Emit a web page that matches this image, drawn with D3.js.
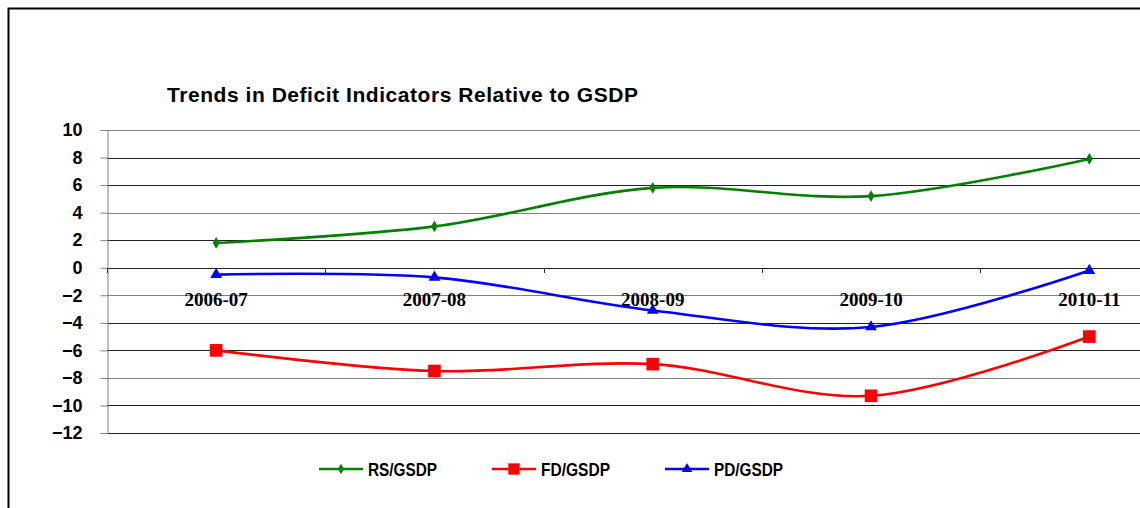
<!DOCTYPE html>
<html>
<head>
<meta charset="utf-8">
<script src="https://cdn.jsdelivr.net/npm/d3@7"></script>
<style>
  body { margin: 0; background: #fff; }
  svg { display: block; }
</style>
</head>
<body>
<div id="chart"></div>
<script>
// data
var years = ["2006-07", "2007-08", "2008-09", "2009-10", "2010-11"];
var rsGsdp = [1.8, 3.0, 5.8, 5.2, 7.9];
var fdGsdp = [-6.0, -7.5, -7.0, -9.3, -5.0];
var pdGsdp = [-0.5, -0.7, -3.1, -4.3, -0.2];
var yTicks = [10, 8, 6, 4, 2, 0, -2, -4, -6, -8, -10, -12];

var series = [
    { name: "RS/GSDP", values: rsGsdp, color: "#008000", symbol: d3.symbolDiamond, size: 40 },
    { name: "FD/GSDP", values: fdGsdp, color: "#ff0000", symbol: d3.symbolSquare, size: 160 },
    { name: "PD/GSDP", values: pdGsdp, color: "#0000ff", symbol: d3.symbolTriangle, size: 60 }
];

var width = 1140;
var height = 508;
var plotLeft = 107, plotTop = 130, plotBottom = 433;
var band = 218.3;

var svg = d3.select("#chart")
    .append("svg")
    .attr("width", width)
    .attr("height", height);

// outer frame
svg.append("path")
    .attr("d", "M8.5," + height + "V8.5H" + width)
    .attr("fill", "none")
    .attr("stroke", "#000")
    .attr("stroke-width", 2);

var x = d3.scaleBand()
    .domain(years)
    .range([plotLeft, plotLeft + band * years.length]);

var y = d3.scaleLinear()
    .domain([-12, 10])
    .range([plotBottom, plotTop]);

// gridlines
svg.append("g")
    .selectAll("line")
    .data(yTicks)
    .join("line")
    .attr("x1", plotLeft)
    .attr("x2", width)
    .attr("y1", d => Math.round(y(d)) + 0.5)
    .attr("y2", d => Math.round(y(d)) + 0.5)
    .attr("stroke", (d, i) => i % 3 === 0 ? "#808080" : "#222")
    .attr("stroke-width", 1);

// y axis
var yAxis = svg.append("g")
    .attr("transform", `translate(${plotLeft + 0.5}, 0)`)
    .call(d3.axisLeft(y).tickValues(yTicks).tickSize(7).tickPadding(18));
yAxis.select(".domain").attr("stroke", "#808080");
yAxis.selectAll(".tick line").attr("stroke", "#808080");
yAxis.selectAll("text")
    .attr("font-family", "Liberation Sans, Arial, sans-serif")
    .attr("font-weight", "bold")
    .attr("font-size", 18)
    .attr("fill", "#000");

// x axis at zero, ticks between categories
var boundaries = d3.range(years.length + 1).map(i => plotLeft + band * i);
svg.append("g")
    .selectAll("line")
    .data(boundaries)
    .join("line")
    .attr("x1", d => Math.round(d) + 0.5)
    .attr("x2", d => Math.round(d) + 0.5)
    .attr("y1", Math.round(y(0)))
    .attr("y2", Math.round(y(0)) + 5)
    .attr("stroke", "#333");

// category labels
svg.append("g")
    .selectAll("text")
    .data(years)
    .join("text")
    .attr("x", d => x(d) + x.bandwidth() / 2)
    .attr("y", 306)
    .attr("text-anchor", "middle")
    .attr("font-family", "Liberation Serif, Times New Roman, serif")
    .attr("font-weight", "bold")
    .attr("font-size", 19)
    .text(d => d);

// title
svg.append("text")
    .attr("x", 167)
    .attr("y", 102)
    .attr("font-family", "Liberation Sans, Arial, sans-serif")
    .attr("font-weight", "bold")
    .attr("font-size", 21)
    .attr("textLength", 471)
    .text("Trends in Deficit Indicators Relative to GSDP");

var line = d3.line()
    .x((d, i) => x(years[i]) + x.bandwidth() / 2)
    .y(d => y(d))
    .curve(d3.curveCardinal.tension(0));

series.forEach(s => {
    svg.append("path")
        .datum(s.values)
        .attr("fill", "none")
        .attr("stroke", s.color)
        .attr("stroke-width", 2.6)
        .attr("d", line);

    svg.append("g")
        .selectAll("path")
        .data(s.values)
        .join("path")
        .attr("transform", (d, i) => `translate(${x(years[i]) + x.bandwidth() / 2}, ${y(d)})`)
        .attr("d", d3.symbol().type(s.symbol).size(s.size))
        .attr("fill", s.color);
});

// legend
var legendX = [319, 492, 665];
var legend = svg.append("g")
    .selectAll("g")
    .data(series)
    .join("g")
    .attr("transform", (d, i) => `translate(${legendX[i]}, 469)`);
legend.append("line")
    .attr("x1", 0)
    .attr("x2", 44)
    .attr("stroke", d => d.color)
    .attr("stroke-width", 2.6);
legend.append("path")
    .attr("transform", "translate(22, 0)")
    .attr("d", d => d3.symbol().type(d.symbol).size(d.size * 0.8)())
    .attr("fill", d => d.color);
legend.append("text")
    .attr("x", 49)
    .attr("y", 6.5)
    .attr("font-family", "Liberation Sans, Arial, sans-serif")
    .attr("font-weight", "bold")
    .attr("font-size", 17.5)
    .attr("textLength", 69)
    .attr("lengthAdjust", "spacingAndGlyphs")
    .text(d => d.name);
</script>
</body>
</html>
